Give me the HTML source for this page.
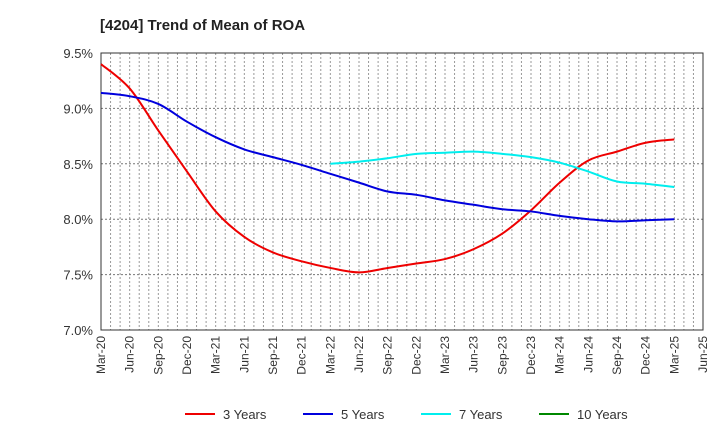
<!DOCTYPE html>
<html><head><meta charset="utf-8"><style>
body{margin:0;background:#fff;font-family:"Liberation Sans",sans-serif;}
</style></head><body>
<svg width="720" height="440" xmlns="http://www.w3.org/2000/svg">
<text x="100" y="30" font-size="15" font-weight="bold" fill="#222">[4204]  Trend of Mean of ROA</text>
<g id="grid"></g><g id="axes"></g><g id="series"></g><g id="legend"></g>
</svg>
<script>
const xLabels=["Mar-20","Jun-20","Sep-20","Dec-20","Mar-21","Jun-21","Sep-21","Dec-21","Mar-22","Jun-22","Sep-22","Dec-22","Mar-23","Jun-23","Sep-23","Dec-23","Mar-24","Jun-24","Sep-24","Dec-24","Mar-25","Jun-25"];
const yTicks=[7.0,7.5,8.0,8.5,9.0,9.5];
const s3=[9.40,9.18,8.80,8.43,8.07,7.84,7.70,7.62,7.56,7.52,7.56,7.60,7.64,7.73,7.87,8.08,8.33,8.53,8.61,8.69,8.72];
const s5=[9.14,9.11,9.04,8.88,8.74,8.63,8.56,8.49,8.41,8.33,8.25,8.22,8.17,8.13,8.09,8.07,8.03,8.00,7.98,7.99,8.00];
const s7=[null,null,null,null,null,null,null,null,8.50,8.52,8.55,8.59,8.60,8.61,8.59,8.56,8.51,8.43,8.34,8.32,8.29];
const s10=[];
const L=101,R=703,T=53,B=330,ymin=7,ymax=9.5;
const X=i=>L+(R-L)*i/(xLabels.length-1);
const Y=v=>B-(v-ymin)/(ymax-ymin)*(B-T);
const NS="http://www.w3.org/2000/svg";
function mk(t,a,p){const e=document.createElementNS(NS,t);for(const k in a)e.setAttribute(k,a[k]);p.appendChild(e);return e;}
const grid=document.getElementById('grid'),axes=document.getElementById('axes'),ser=document.getElementById('series'),leg=document.getElementById('legend');
for(let m=1;m<(xLabels.length-1)*3;m++){const x=L+(R-L)*m/((xLabels.length-1)*3);
const g=mk('line',{x1:x,x2:x,y1:T,y2:B,stroke:'#999','stroke-dasharray':'2,2','stroke-width':1},grid);

}
yTicks.forEach(v=>{const y=Y(v);
if(v>ymin&&v<ymax){const g=mk('line',{x1:L,x2:R,y1:y,y2:y,stroke:'#777','stroke-dasharray':'2,2','stroke-width':1},grid);

}
const t=mk('text',{x:L-8,y:y+5,'text-anchor':'end','font-size':13,fill:'#333'},axes);t.textContent=v.toFixed(1)+'%';

});
const fr=mk('rect',{x:L,y:T,width:R-L,height:B-T,fill:'none',stroke:'#333','stroke-width':1},axes);


xLabels.forEach((l,i)=>{const x=X(i);const t=mk('text',{x:0,y:0,transform:`translate(${x+4},336) rotate(-90)`,'text-anchor':'end','font-size':12,fill:'#333'},axes);t.textContent=l;

});
function path(arr){const pts=[];arr.forEach((v,i)=>{if(v!=null)pts.push([X(i),Y(v)]);});if(pts.length<2)return '';
let d=`M${pts[0][0]},${pts[0][1]}`;for(let i=0;i<pts.length-1;i++){const p0=pts[Math.max(0,i-1)],p1=pts[i],p2=pts[i+1],p3=pts[Math.min(pts.length-1,i+2)];
d+=` C${p1[0]+(p2[0]-p0[0])/6},${p1[1]+(p2[1]-p0[1])/6} ${p2[0]-(p3[0]-p1[0])/6},${p2[1]-(p3[1]-p1[1])/6} ${p2[0]},${p2[1]}`;}return d;}
const series=[[s3,'#ee0000','3 Years','line-3-years'],[s5,'#0000dd','5 Years','line-5-years'],[s7,'#00eeee','7 Years','line-7-years'],[s10,'#008800','10 Years','line-10-years']];
series.forEach(([a,c,n,id])=>{const d=path(a);if(d){const p=mk('path',{d:d,fill:'none',stroke:c,'stroke-width':2},ser);

}});
const lx=[185,303,421,539];
series.forEach(([a,c,n],i)=>{const g=mk('g',{},leg);


mk('line',{x1:lx[i],x2:lx[i]+30,y1:414,y2:414,stroke:c,'stroke-width':2},g);
const t=mk('text',{x:lx[i]+38,y:419,'font-size':13,fill:'#333'},g);t.textContent=n;});
</script>
</body></html>
